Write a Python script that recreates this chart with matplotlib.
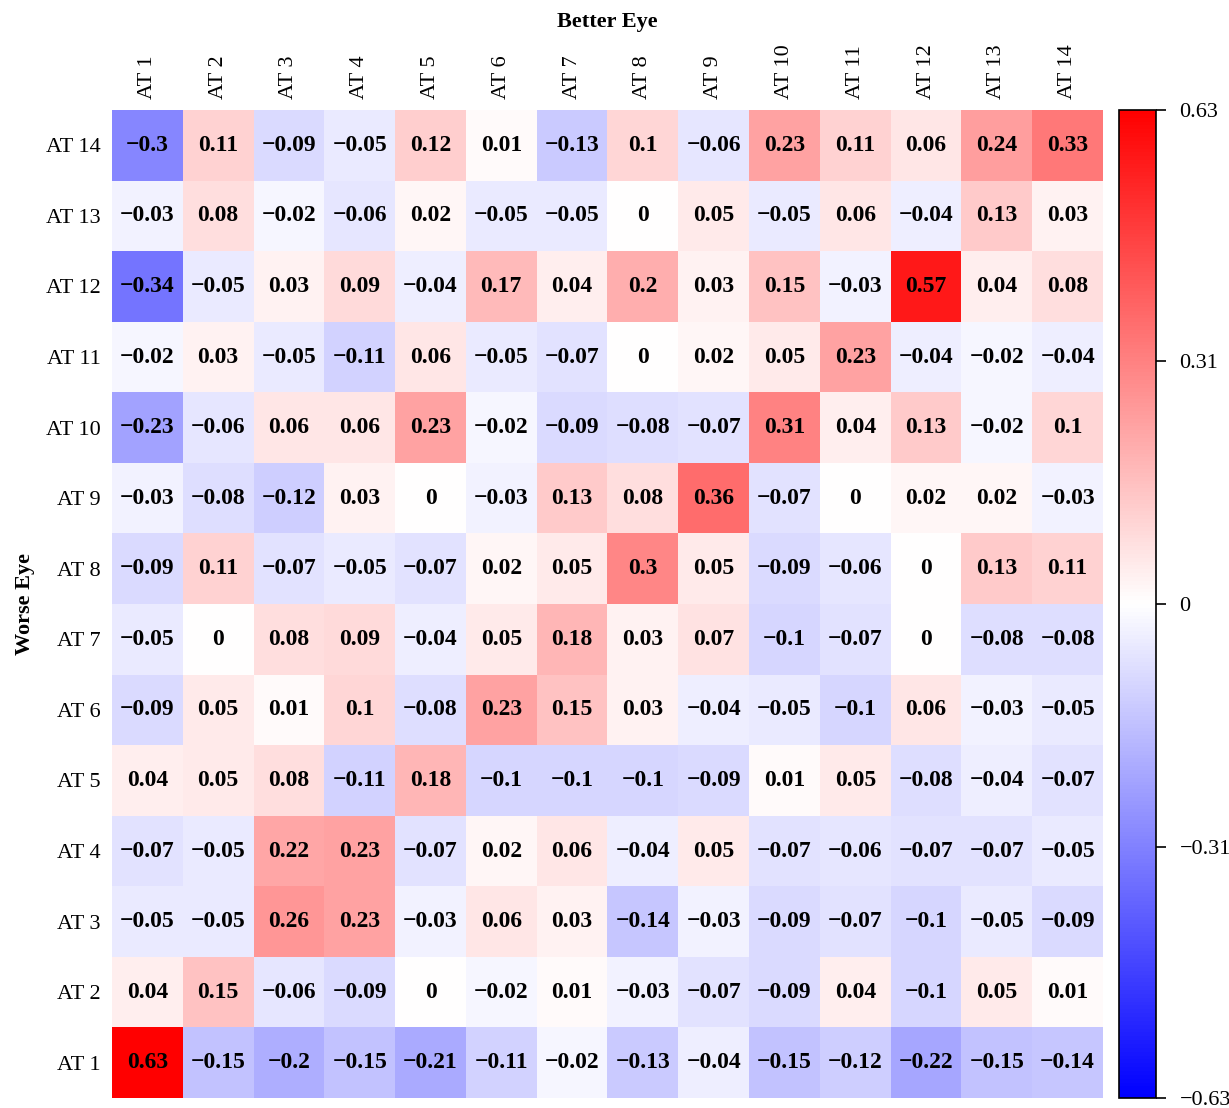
import numpy as np
import matplotlib
matplotlib.use("Agg")
import matplotlib.pyplot as plt

plt.rcParams['font.family'] = ['Liberation Serif', 'DejaVu Serif']

labels = ["AT %d" % i for i in range(1, 15)]

# rows: worse eye AT 14 (top) down to AT 1; columns: better eye AT 1 .. AT 14
row_labels = labels[::-1]
col_labels = labels

corr = [
    [-0.3, 0.11, -0.09, -0.05, 0.12, 0.01, -0.13, 0.1, -0.06, 0.23, 0.11, 0.06, 0.24, 0.33],
    [-0.03, 0.08, -0.02, -0.06, 0.02, -0.05, -0.05, 0, 0.05, -0.05, 0.06, -0.04, 0.13, 0.03],
    [-0.34, -0.05, 0.03, 0.09, -0.04, 0.17, 0.04, 0.2, 0.03, 0.15, -0.03, 0.57, 0.04, 0.08],
    [-0.02, 0.03, -0.05, -0.11, 0.06, -0.05, -0.07, 0, 0.02, 0.05, 0.23, -0.04, -0.02, -0.04],
    [-0.23, -0.06, 0.06, 0.06, 0.23, -0.02, -0.09, -0.08, -0.07, 0.31, 0.04, 0.13, -0.02, 0.1],
    [-0.03, -0.08, -0.12, 0.03, 0, -0.03, 0.13, 0.08, 0.36, -0.07, 0, 0.02, 0.02, -0.03],
    [-0.09, 0.11, -0.07, -0.05, -0.07, 0.02, 0.05, 0.3, 0.05, -0.09, -0.06, 0, 0.13, 0.11],
    [-0.05, 0, 0.08, 0.09, -0.04, 0.05, 0.18, 0.03, 0.07, -0.1, -0.07, 0, -0.08, -0.08],
    [-0.09, 0.05, 0.01, 0.1, -0.08, 0.23, 0.15, 0.03, -0.04, -0.05, -0.1, 0.06, -0.03, -0.05],
    [0.04, 0.05, 0.08, -0.11, 0.18, -0.1, -0.1, -0.1, -0.09, 0.01, 0.05, -0.08, -0.04, -0.07],
    [-0.07, -0.05, 0.22, 0.23, -0.07, 0.02, 0.06, -0.04, 0.05, -0.07, -0.06, -0.07, -0.07, -0.05],
    [-0.05, -0.05, 0.26, 0.23, -0.03, 0.06, 0.03, -0.14, -0.03, -0.09, -0.07, -0.1, -0.05, -0.09],
    [0.04, 0.15, -0.06, -0.09, 0, -0.02, 0.01, -0.03, -0.07, -0.09, 0.04, -0.1, 0.05, 0.01],
    [0.63, -0.15, -0.2, -0.15, -0.21, -0.11, -0.02, -0.13, -0.04, -0.15, -0.12, -0.22, -0.15, -0.14],
]
corr = np.array(corr)

vmax = 0.63
cbar_ticks = [-0.63, -0.31, 0, 0.31, 0.63]


def fmt(v):
    s = "%g" % v
    return s.replace("-", "\u2212")


fig = plt.figure(figsize=(12.29, 11.08), dpi=100)
ax = fig.add_axes([0.0911, 0.009, 0.8064, 0.8917])
cax = fig.add_axes([0.9105, 0.009, 0.0301, 0.8917])

mesh = ax.pcolormesh(corr, cmap="bwr", vmin=-vmax, vmax=vmax)
ax.set_xlim(0, corr.shape[1])
ax.set_ylim(corr.shape[0], 0)

# value label in every cell
for i in range(corr.shape[0]):
    for j in range(corr.shape[1]):
        ax.text(j + 0.5, i + 0.5, fmt(corr[i, j]), ha="center", va="center",
                fontsize=17, fontweight="bold", color="black")

ax.xaxis.tick_top()
ax.xaxis.set_label_position("top")
ax.set_xticks(np.arange(len(col_labels)) + 0.5)
ax.set_xticklabels(col_labels, rotation=90, fontsize=16)
ax.set_yticks(np.arange(len(row_labels)) + 0.5)
ax.set_yticklabels(row_labels, fontsize=16)
ax.tick_params(length=0, pad=8)
for s in ax.spines.values():
    s.set_visible(False)

ax.set_xlabel("Better Eye", fontsize=16, fontweight="bold", labelpad=12)
ax.set_ylabel("Worse Eye", fontsize=16, fontweight="bold", labelpad=8)

cb = fig.colorbar(mesh, cax=cax, ticks=cbar_ticks)
cb.ax.set_yticklabels([fmt(t) for t in cbar_ticks], fontsize=16)
cb.ax.tick_params(length=7, width=1.2, pad=10)
cb.outline.set_linewidth(1.2)

plt.savefig("out.png", dpi=100)
plt.close(fig)
